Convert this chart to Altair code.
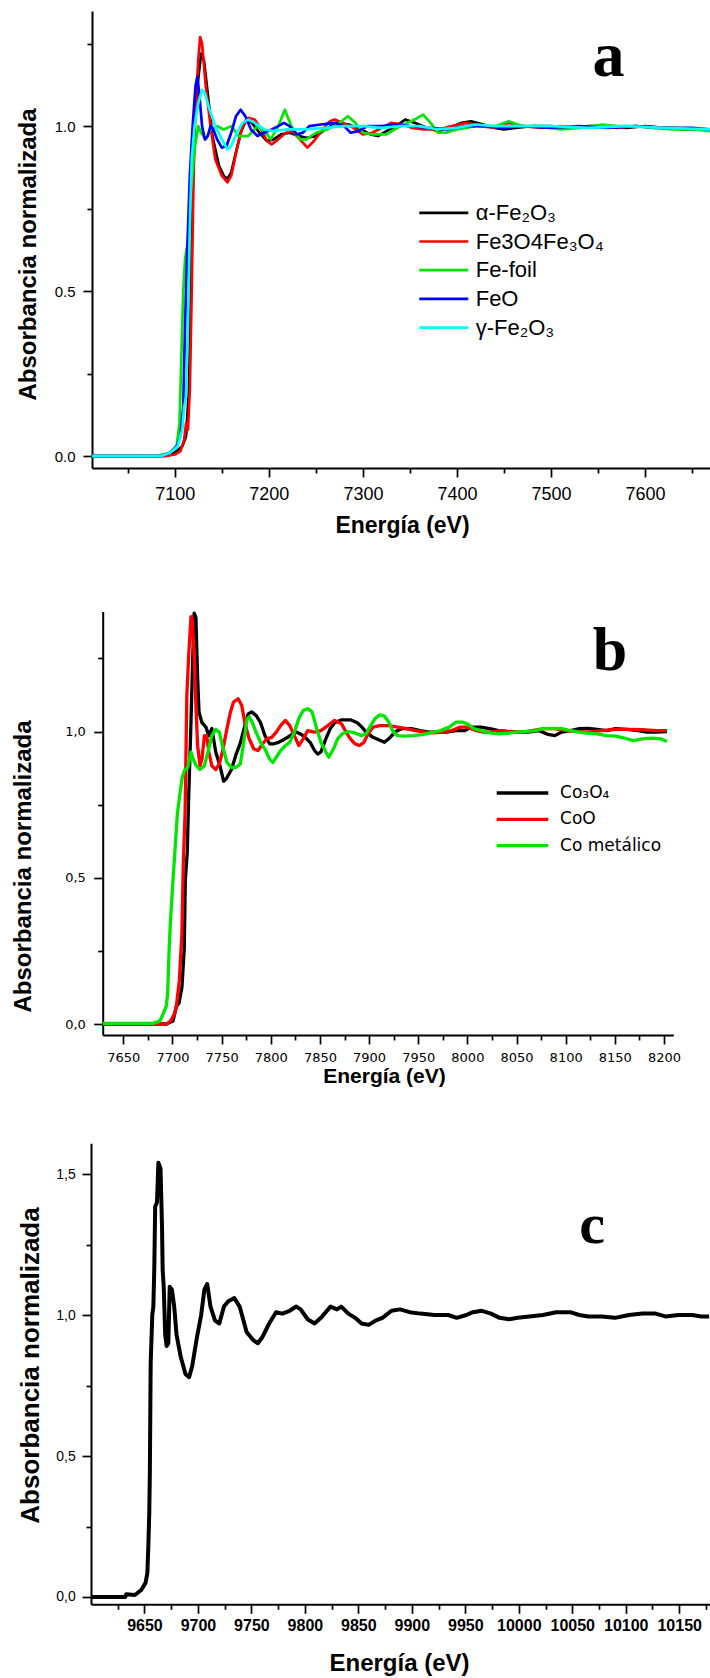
import altair as alt
import pandas as pd

# ---------------- Panel a : Fe K-edge ----------------
A_NAMES = ["α-Fe₂O₃", "Fe3O4Fe₃O₄", "Fe-foil", "FeO", "γ-Fe₂O₃"]
A_COLORS = ["#000000", "#ff0000", "#00e600", "#0000ff", "#00ffff"]

A_ALPHA = [(7012, 0), (7085, 0), (7100, 0.01), (7108, 0.03), (7112, 0.06), (7115, 0.2), (7117, 0.5),
           (7119, 0.8), (7121, 1.0), (7124, 1.12), (7128, 1.22), (7131, 1.2), (7135, 1.1), (7140, 0.97),
           (7147, 0.88), (7152, 0.85), (7156, 0.84), (7160, 0.86), (7165, 0.92), (7170, 0.98), (7176, 1.02),
           (7182, 1.01), (7190, 0.98), (7198, 0.955), (7205, 0.96), (7213, 0.975), (7222, 0.98), (7232, 0.97),
           (7240, 0.965), (7250, 0.97), (7260, 0.99), (7272, 1.01), (7285, 1.005), (7298, 0.99), (7308, 0.975),
           (7316, 0.97), (7325, 0.985), (7335, 1.0), (7345, 1.02), (7355, 1.01), (7368, 0.995), (7380, 0.985),
           (7392, 0.995), (7405, 1.01), (7415, 1.015), (7428, 1.005), (7440, 0.995), (7450, 0.99), (7462, 0.995),
           (7480, 1.0), (7500, 1.0), (7520, 0.995), (7540, 1.0), (7560, 1.0), (7580, 0.995), (7600, 1.0),
           (7620, 0.995), (7640, 0.99), (7669, 0.99)]
A_FE3O4 = [(7012, 0), (7090, 0), (7100, 0.005), (7106, 0.015), (7110, 0.05), (7112, 0.1), (7114, 0.08),
           (7116, 0.2), (7118, 0.5), (7120, 0.85), (7122, 1.05), (7125, 1.2), (7127, 1.27), (7129, 1.25),
           (7133, 1.12), (7138, 1.0), (7143, 0.9), (7150, 0.85), (7156, 0.83), (7160, 0.85), (7166, 0.93),
           (7172, 1.0), (7178, 1.025), (7185, 1.02), (7192, 0.99), (7198, 0.955), (7203, 0.945), (7210, 0.96),
           (7218, 0.98), (7225, 0.985), (7233, 0.96), (7241, 0.935), (7248, 0.955), (7257, 0.99), (7265, 1.015),
           (7270, 1.02), (7278, 1.01), (7290, 0.995), (7300, 0.975), (7310, 0.98), (7320, 0.995), (7330, 1.01),
           (7342, 1.005), (7352, 0.995), (7365, 0.99), (7380, 0.99), (7395, 1.0), (7410, 1.01), (7425, 1.0),
           (7440, 0.995), (7455, 1.01), (7470, 1.0), (7490, 0.995), (7510, 1.0), (7530, 0.995), (7550, 1.0),
           (7570, 0.995), (7590, 1.0), (7610, 0.995), (7630, 0.995), (7650, 0.99), (7669, 0.99)]
A_FOIL = [(7012, 0), (7080, 0), (7095, 0.01), (7102, 0.03), (7105, 0.1), (7107, 0.3), (7109, 0.5),
          (7111, 0.6), (7114, 0.65), (7117, 0.8), (7121, 0.93), (7125, 1.0), (7128, 0.98), (7133, 0.96),
          (7138, 0.99), (7145, 1.0), (7152, 0.99), (7160, 1.0), (7168, 0.97), (7178, 0.97), (7188, 1.0),
          (7197, 0.98), (7202, 0.96), (7210, 1.0), (7217, 1.05), (7224, 1.0), (7233, 0.96), (7240, 0.96),
          (7250, 0.98), (7262, 0.99), (7275, 1.01), (7284, 1.03), (7292, 1.01), (7300, 0.98), (7310, 0.975),
          (7325, 0.975), (7340, 1.0), (7355, 1.02), (7364, 1.035), (7372, 1.01), (7380, 0.98), (7388, 0.98),
          (7400, 0.99), (7420, 1.0), (7440, 1.0), (7455, 1.015), (7470, 1.0), (7490, 1.0), (7510, 0.99),
          (7530, 0.995), (7555, 1.005), (7570, 1.0), (7590, 1.0), (7610, 0.995), (7630, 0.99), (7650, 0.99),
          (7669, 0.985)]
A_FEO = [(7012, 0), (7085, 0), (7095, 0.01), (7102, 0.03), (7106, 0.06), (7109, 0.15), (7111, 0.4),
         (7113, 0.6), (7116, 0.85), (7119, 1.0), (7122, 1.12), (7124, 1.15), (7126, 1.1), (7129, 1.0),
         (7132, 0.96), (7135, 0.97), (7138, 1.0), (7141, 0.99), (7145, 0.96), (7150, 0.935), (7155, 0.94),
         (7160, 0.98), (7165, 1.03), (7170, 1.05), (7175, 1.03), (7181, 0.99), (7188, 0.97), (7195, 0.98),
         (7203, 0.99), (7210, 1.0), (7216, 1.01), (7222, 1.0), (7230, 0.975), (7236, 0.98), (7243, 1.0),
         (7255, 1.005), (7270, 1.01), (7280, 1.0), (7287, 0.98), (7295, 0.985), (7305, 1.0), (7320, 1.0),
         (7335, 1.005), (7350, 1.0), (7370, 0.995), (7390, 0.99), (7410, 1.0), (7430, 1.0), (7450, 0.995),
         (7470, 1.0), (7500, 0.995), (7530, 1.0), (7560, 0.995), (7590, 1.0), (7620, 0.995), (7650, 0.995),
         (7669, 0.99)]
A_GAMMA = [(7012, 0), (7085, 0), (7095, 0.01), (7103, 0.03), (7108, 0.08), (7110, 0.15), (7112, 0.18),
           (7114, 0.4), (7116, 0.7), (7118, 0.9), (7121, 1.0), (7125, 1.07), (7129, 1.11), (7132, 1.1),
           (7137, 1.05), (7143, 1.0), (7150, 0.96), (7156, 0.93), (7160, 0.94), (7166, 0.98), (7172, 1.01),
           (7178, 1.02), (7185, 1.01), (7195, 0.99), (7205, 0.985), (7220, 0.99), (7240, 0.99), (7260, 0.995),
           (7280, 1.0), (7300, 1.0), (7320, 0.995), (7340, 1.0), (7360, 1.0), (7380, 0.99), (7400, 0.995),
           (7420, 1.005), (7440, 1.0), (7460, 1.0), (7500, 1.0), (7540, 0.995), (7580, 1.0), (7620, 0.995),
           (7669, 0.99)]
A_SERIES = [A_ALPHA, A_FE3O4, A_FOIL, A_FEO, A_GAMMA]

# ---------------- Panel b : Co K-edge ----------------
B_NAMES = ["Co₃O₄", "CoO", "Co metálico"]
B_COLORS = ["#000000", "#ff0000", "#00e600"]

B_CO3O4 = [(7629, 0), (7694, 0), (7700.5, 0.01), (7704, 0.06), (7706.5, 0.07), (7709.6, 0.126), (7712, 0.26),
           (7713, 0.49), (7715, 0.585), (7716.5, 0.78), (7718.8, 1.03), (7720, 1.18), (7722, 1.405),
           (7723.8, 1.39), (7725.6, 1.18), (7727, 1.066), (7730, 1.03), (7734, 1.015), (7737, 0.986),
           (7740, 1.01), (7744, 0.93), (7748.5, 0.88), (7752, 0.83), (7755, 0.84), (7760, 0.87), (7764.5, 0.92),
           (7769, 0.96), (7773.6, 1.02), (7777, 1.06), (7780.5, 1.067), (7785, 1.055), (7789.6, 1.03),
           (7794, 0.986), (7798.8, 0.958), (7803, 0.958), (7808, 0.963), (7812, 0.97), (7817, 0.98),
           (7821.6, 0.99), (7826, 0.998), (7831, 0.99), (7835, 0.98), (7840, 0.963), (7844.5, 0.935),
           (7847.7, 0.923), (7851, 0.93), (7856, 0.975), (7860.5, 1.01), (7865, 1.03), (7872, 1.04), (7881, 1.04),
           (7888, 1.03), (7892.7, 1.015), (7897, 0.998), (7904, 0.98), (7911, 0.97), (7915.6, 0.963),
           (7920, 0.975), (7927, 1.0), (7933.8, 1.01), (7943, 1.01), (7952, 1.003), (7961, 0.998), (7970, 0.998),
           (7979, 0.998), (7988, 1.003), (7997.5, 1.003), (8004.5, 1.015), (8013.6, 1.015), (8022.7, 1.01),
           (8031.8, 1.003), (8041, 1.0), (8050, 0.998), (8061.6, 0.998), (8073, 1.003), (8082, 0.99),
           (8089, 0.986), (8096, 0.998), (8105, 1.003), (8114, 1.01), (8123, 1.011), (8132, 1.007),
           (8141.5, 1.003), (8150.6, 1.01), (8162, 1.007), (8173.6, 1.003), (8182.7, 0.998), (8192, 0.998),
           (8203, 1.0)]
B_COO = [(7629, 0), (7694, 0), (7698, 0.01), (7702, 0.035), (7704, 0.063), (7707, 0.15), (7709.6, 0.31),
         (7711, 0.55), (7712.8, 0.72), (7714.6, 1.124), (7716.5, 1.26), (7718.8, 1.393), (7720, 1.388),
         (7722, 1.26), (7723.8, 1.09), (7725.6, 0.95), (7728, 0.883), (7730, 0.906), (7732.5, 0.986),
         (7734.8, 0.986), (7737, 0.93), (7740, 0.883), (7744, 0.87), (7747.6, 0.889), (7750.8, 0.93),
         (7755.4, 1.01), (7759, 1.067), (7762, 1.10), (7766.8, 1.112), (7770.4, 1.09), (7773.6, 1.03),
         (7778, 0.975), (7782.8, 0.94), (7787, 0.935), (7791.8, 0.958), (7796, 0.975), (7801, 0.98),
         (7805.6, 0.998), (7810, 1.02), (7814.8, 1.038), (7819.3, 1.02), (7824, 0.986), (7828.5, 0.952),
         (7833, 0.975), (7837.6, 1.003), (7844.5, 0.998), (7851, 1.003), (7858, 1.02), (7865, 1.038),
         (7872, 1.026), (7876.5, 0.998), (7881, 0.975), (7885.6, 0.958), (7890, 0.952), (7894.8, 0.963),
         (7899, 0.992), (7904, 1.015), (7911, 1.02), (7920, 1.02), (7929, 1.015), (7938, 1.01), (7947, 1.003),
         (7956.5, 0.998), (7965.5, 0.995), (7974.7, 0.998), (7984, 1.003), (7993, 1.015), (8000, 1.015),
         (8009, 1.003), (8016, 0.998), (8025, 0.998), (8034, 1.003), (8045.6, 0.998), (8057, 0.998),
         (8066, 1.003), (8077.6, 1.01), (8089, 1.01), (8100.5, 1.003), (8112, 1.0), (8123, 0.998),
         (8137, 1.003), (8150.6, 1.007), (8164, 1.007), (8178, 1.006), (8192, 1.003), (8203, 1.003)]
B_CO = [(7629, 0.002), (7680, 0.002), (7687, 0.01), (7690, 0.03), (7693.6, 0.06), (7695, 0.10), (7696.4, 0.24),
        (7698, 0.356), (7700.5, 0.49), (7702.8, 0.608), (7705, 0.72), (7707.3, 0.78), (7709.6, 0.837),
        (7712, 0.866), (7715.6, 0.877), (7718.8, 0.93), (7721, 0.906), (7724.3, 0.883), (7728, 0.87),
        (7732.5, 0.883), (7736, 0.93), (7740, 0.986), (7744, 1.007), (7747.6, 0.998), (7750.8, 0.952),
        (7755.4, 0.894), (7760, 0.877), (7764.5, 0.877), (7769, 0.889), (7772, 0.952), (7776, 1.044),
        (7778, 1.05), (7781, 1.032), (7785, 0.998), (7789.6, 0.963), (7794, 0.94), (7798.8, 0.906),
        (7802, 0.894), (7805.6, 0.912), (7810, 0.935), (7814.8, 0.952), (7819.3, 0.963), (7824, 0.998),
        (7828.5, 1.044), (7833, 1.072), (7837.6, 1.078), (7842, 1.067), (7846.7, 1.01), (7851, 0.963),
        (7856, 0.93), (7859, 0.912), (7863.7, 0.94), (7868, 0.975), (7872.7, 0.992), (7878.6, 1.0),
        (7885.6, 0.995), (7892.5, 0.986), (7897, 0.992), (7901.6, 1.02), (7906, 1.044), (7911, 1.057),
        (7915.6, 1.053), (7920, 1.032), (7924.6, 0.998), (7929, 0.986), (7936, 0.984), (7945, 0.986),
        (7954, 0.989), (7963, 0.995), (7972.6, 1.003), (7981.6, 1.015), (7988.5, 1.032), (7995, 1.032),
        (8000, 1.026), (8006.7, 1.01), (8013.6, 1.003), (8022.7, 0.995), (8031.8, 0.992), (8041, 0.994),
        (8050, 0.998), (8059, 1.0), (8068.6, 1.003), (8077.6, 1.01), (8086.7, 1.011), (8096, 1.01),
        (8105, 1.003), (8114, 0.998), (8123, 0.994), (8132, 0.992), (8141.5, 0.986), (8150.6, 0.984),
        (8160, 0.977), (8169, 0.969), (8178, 0.975), (8187.6, 0.977), (8196.7, 0.975), (8203, 0.966)]
B_SERIES = [B_CO3O4, B_COO, B_CO]

# ---------------- Panel c : single spectrum ----------------
C_SPEC = [(9600, 0), (9632, 0), (9633, 0.01), (9641, 0.007), (9647, 0.025), (9651, 0.05), (9652.7, 0.085),
          (9653.6, 0.18), (9654.5, 0.3), (9655, 0.43), (9655.8, 0.83), (9657.3, 1.0), (9658.3, 1.03),
          (9659.2, 1.17), (9660, 1.384), (9661.7, 1.4), (9663, 1.54), (9665, 1.52), (9666.4, 1.315),
          (9667, 1.16), (9668, 1.10), (9669.4, 0.93), (9670.7, 0.89), (9672.3, 0.90), (9673.6, 1.10),
          (9675.7, 1.09), (9677.8, 1.03), (9680, 0.93), (9684, 0.85), (9688.4, 0.79), (9691.8, 0.78),
          (9694.7, 0.82), (9699, 0.92), (9703, 1.0), (9706, 1.09), (9708.7, 1.11), (9711.7, 1.03),
          (9716, 0.98), (9720, 0.97), (9724.3, 1.03), (9728.6, 1.05), (9734, 1.06), (9739, 1.03),
          (9745.5, 0.94), (9752, 0.91), (9756, 0.90), (9760, 0.92), (9766.6, 0.97), (9773, 1.01),
          (9779, 1.005), (9785.7, 1.015), (9792, 1.03), (9796, 1.02), (9802.6, 0.985), (9809, 0.97),
          (9815, 0.99), (9824, 1.03), (9830, 1.02), (9834, 1.03), (9840.6, 1.005), (9847, 0.99),
          (9853, 0.97), (9859.7, 0.965), (9866, 0.98), (9872.5, 0.99), (9881, 1.015), (9889, 1.02),
          (9898, 1.01), (9908, 1.005), (9921, 1.0), (9934, 1.0), (9942, 0.99), (9951, 1.0), (9957, 1.01),
          (9965.5, 1.015), (9974, 1.005), (9982, 0.99), (9991, 0.985), (9999, 0.99), (10010, 0.995),
          (10022.6, 1.0), (10035, 1.01), (10048, 1.01), (10056.5, 1.0), (10065, 0.995), (10077.6, 0.995),
          (10090, 0.99), (10103, 1.0), (10115.7, 1.005), (10128, 1.005), (10137, 0.995), (10149.5, 1.0),
          (10162, 1.0), (10170.7, 0.995), (10178, 0.995)]

# tick values
A_XTICKS = list(range(7050, 7669, 50))
B_XTICKS = list(range(7650, 8210, 25))
C_XTICKS = list(range(9625, 10179, 25))
Y_TICKS_AB = [0, 0.25, 0.5, 0.75, 1.0, 1.25]
Y_TICKS_C = [0, 0.25, 0.5, 0.75, 1.0, 1.25, 1.5]

H = 1678
TITLE_X = "Energía (eV)"
TITLE_Y = "Absorbancia normalizada"


def frame(names, series):
    rows = []
    for n, s in zip(names, series):
        for e, v in s:
            rows.append({"E": e, "A": v, "serie": n})
    return pd.DataFrame(rows)


def xaxis(values, major, axis_y, title_x, title_y, title_size, lab_font, lab_size, lab_weight, lab_pad):
    return alt.Axis(
        orient="bottom", offset=axis_y - H, values=values, grid=False, format="d",
        labelExpr=f"datum.value % {major} === 0 ? datum.label : ''",
        labelFont=lab_font, labelFontSize=lab_size, labelFontWeight=lab_weight, labelColor="black",
        labelBaseline="alphabetic", labelPadding=lab_pad, labelFlush=False, labelOverlap=False, labelBound=False,
        tickSize={"condition": {"test": f"datum.value % {major} === 0", "value": 9}, "value": 5},
        tickColor="black", tickWidth=1.7, domainColor="black", domainWidth=2,
        title=TITLE_X, titleX=title_x, titleY=title_y - axis_y, titleAlign="center", titleBaseline="alphabetic",
        titleFont="Liberation Sans", titleFontSize=title_size, titleFontWeight="bold", titleColor="black",
    )


def yaxis(values, axis_x, title_x, title_y, title_size, lab_font, lab_size, lab_pad, comma, title_font="Liberation Sans"):
    fmt = "replace(format(datum.value, '.1f'), '.', ',')" if comma else "format(datum.value, '.1f')"
    return alt.Axis(
        orient="left", offset=-axis_x, values=values, grid=False,
        labelExpr=f"datum.value % 0.5 === 0 ? {fmt} : ''",
        labelFont=lab_font, labelFontSize=lab_size, labelColor="black", labelBaseline="middle",
        labelPadding=lab_pad, labelOverlap=False, labelBound=False, labelFlush=False,
        tickSize={"condition": {"test": "datum.value % 0.5 === 0", "value": 9}, "value": 5},
        tickColor="black", tickWidth=1.7, domainColor="black", domainWidth=2,
        title=TITLE_Y, titleAngle=270, titleX=title_x - axis_x, titleY=title_y, titleAlign="center",
        titleBaseline="alphabetic", titleFont=title_font, titleFontSize=title_size, titleFontWeight="bold",
        titleColor="black",
    )


# ---- panel a ----
panel_a = alt.Chart(frame(A_NAMES, A_SERIES)).mark_line(strokeWidth=2.7, strokeJoin="round").encode(
    x=alt.X("E:Q", scale=alt.Scale(domain=[7012, 7669], range=[92, 710], nice=False, zero=False),
            axis=xaxis(A_XTICKS, 100, 468, 402, 532.4, 23, "Liberation Sans", 18, "normal", 22)),
    y=alt.Y("A:Q", scale=alt.Scale(domain=[-0.036, 1.349], range=[468, 11], nice=False, zero=False),
            axis=yaxis(Y_TICKS_AB, 92, 35, 254, 24, "Liberation Sans", 15, 8, False)),
    color=alt.Color("serie:N", scale=alt.Scale(domain=A_NAMES, range=A_COLORS),
                    legend=alt.Legend(title=None, orient="none", legendX=432.3, legendY=201.3,
                                      symbolType="M-2.5,0H2.5", symbolSize=384, symbolStrokeWidth=2.7,
                                      labelFont="Liberation Sans", labelFontSize=22, labelColor="black",
                                      labelOffset=20.4, rowPadding=5.7, padding=0, labelLimit=400)),
)

# ---- panel b ----
panel_b = alt.Chart(frame(B_NAMES, B_SERIES)).mark_line(strokeWidth=3.3, strokeJoin="round").encode(
    x=alt.X("E:Q", scale=alt.Scale(domain=[7629, 8209.5], range=[102.7, 673.3], nice=False, zero=False),
            axis=xaxis(B_XTICKS, 50, 1035, 384, 1082.6, 21, "DejaVu Sans", 13, "normal", 17.7)),
    y=alt.Y("A:Q", scale=alt.Scale(domain=[-0.0376, 1.4106], range=[1035, 611.4], nice=False, zero=False),
            axis=yaxis(Y_TICKS_AB, 102.7, 30.5, 866, 24, "DejaVu Sans", 13, 8.3, True)),
    color=alt.Color("serie:N", scale=alt.Scale(domain=B_NAMES, range=B_COLORS),
                    legend=alt.Legend(title=None, orient="none", legendX=510.5, legendY=781,
                                      symbolType="M-2.5,0H2.5", symbolSize=426, symbolStrokeWidth=3.3,
                                      labelFont="DejaVu Sans", labelFontSize=17, labelColor="black",
                                      labelOffset=25.6, rowPadding=6.3, padding=0, labelLimit=400)),
)

# ---- panel c ----
panel_c = alt.Chart(frame(["c"], [C_SPEC])).mark_line(strokeWidth=4, color="black", strokeJoin="round").encode(
    x=alt.X("E:Q", scale=alt.Scale(domain=[9600, 10178.8], range=[91, 710], nice=False, zero=False),
            axis=xaxis(C_XTICKS, 50, 1604.3, 399, 1670, 24, "Liberation Sans", 16, "bold", 16.7)),
    y=alt.Y("A:Q", scale=alt.Scale(domain=[-0.0259, 1.609], range=[1604.3, 1143.3], nice=False, zero=False),
            axis=yaxis(Y_TICKS_C, 91, 38.5, 1365, 26, "Liberation Sans", 14, 6.7, True)),
)


def letter(ch, x, y, size):
    return alt.Chart(pd.DataFrame({"t": [ch]})).mark_text(
        font="Liberation Serif", fontWeight="bold", fontSize=size, align="center",
        baseline="alphabetic", color="black",
    ).encode(text="t:N", x=alt.value(x), y=alt.value(y))


chart = alt.layer(
    panel_a, panel_b, panel_c,
    letter("a", 608.5, 76, 64), letter("b", 610, 670, 62), letter("c", 592, 1243, 58),
).resolve_scale(
    x="independent", y="independent", color="independent"
).properties(
    width=710, height=H, padding=0, background="white",
    autosize=alt.AutoSizeParams(type="none"),
).configure_view(stroke=None).configure_axis(grid=False)

chart.save("out.html", embed_options={"renderer": "svg", "actions": False})
